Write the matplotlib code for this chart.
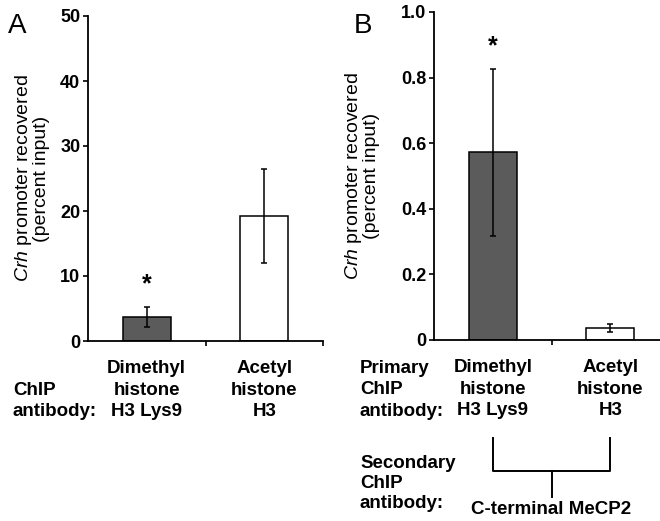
import matplotlib
matplotlib.use("Agg")
import matplotlib.pyplot as plt
import matplotlib.transforms as mtransforms

plt.rcParams['font.family'] = ['Liberation Sans', 'DejaVu Sans']
plt.rcParams['mathtext.fontset'] = 'custom'
plt.rcParams['mathtext.rm'] = 'Liberation Sans'
plt.rcParams['mathtext.it'] = 'Liberation Sans:italic'
plt.rcParams['mathtext.bf'] = 'Liberation Sans:bold'

# ---------------- data ----------------
categories = ["Dimethyl\nhistone\nH3 Lys9", "Acetyl\nhistone\nH3"]
a_values = [3.7, 19.2]
a_errors = [1.6, 7.2]
b_values = [0.572, 0.036]
b_errors = [0.255, 0.012]
a_yticks = [0, 10, 20, 30, 40, 50]
a_yticklabels = ["0", "10", "20", "30", "40", "50"]
b_yticks = [0, 0.2, 0.4, 0.6, 0.8, 1.0]
b_yticklabels = ["0", "0.2", "0.4", "0.6", "0.8", "1.0"]
a_significant = [True, False]
b_significant = [True, False]
bar_colors = ["#5b5b5b", "white"]
ylabel = "$\\it{Crh}$ promoter recovered\n(percent input)"

fig = plt.figure(figsize=(6.6, 5.21), dpi=100)
W, H = 660.0, 521.0

def fx(px):
    return px / W

def fy(py):
    return 1 - py / H

axA = fig.add_axes([fx(88), fy(341), fx(323) - fx(88), fy(16) - fy(341)])
axB = fig.add_axes([fx(434), fy(340), 1.0 - fx(434), fy(12) - fy(340)])

x = [0, 1]
bw = 0.41
LS = 1.33

def style(ax, yticks, yticklabels, ylim, xlim, majors):
    ax.set_ylim(*ylim)
    ax.set_xlim(*xlim)
    for s in ['top', 'right']:
        ax.spines[s].set_visible(False)
    for s in ['left', 'bottom']:
        ax.spines[s].set_linewidth(1.3)
    ax.set_yticks(yticks)
    ax.set_yticklabels(yticklabels, fontsize=13, fontweight='bold')
    ax.tick_params(axis='y', direction='out', length=3.5, width=1.2, pad=2)
    ax.set_xticks(majors)
    ax.set_xticklabels([""] * len(majors))
    ax.tick_params(axis='x', which='major', direction='out', length=3.5, width=1.2)
    ax.set_xticks(x, minor=True)
    ax.set_xticklabels(categories, minor=True, fontsize=13.5, fontweight='bold',
                       linespacing=LS)
    ax.tick_params(axis='x', which='minor', length=0, pad=14)
    ax.set_ylabel(ylabel, fontsize=14, linespacing=0.95)

def draw_bars(ax, values, errors, stars):
    ax.bar(x, values, width=bw, color=bar_colors, edgecolor='black',
           linewidth=1.1, zorder=2)
    ax.errorbar(x, values, yerr=errors, fmt='none', ecolor='black',
                elinewidth=1.1, capsize=2.5, capthick=1.1, zorder=3)
    for xi, v, e, s in zip(x, values, errors, stars):
        if s:
            ax.annotate("*", xy=(xi, v + e), xytext=(0, 16),
                        textcoords='offset points', ha='center', va='center',
                        fontsize=18, fontweight='bold')

draw_bars(axA, a_values, a_errors, a_significant)
style(axA, a_yticks, a_yticklabels, (0, 50), (-0.5, 1.5), [0.5, 1.5])
axA.yaxis.set_label_coords(-0.162, 0.5)

draw_bars(axB, b_values, b_errors, b_significant)
style(axB, b_yticks, b_yticklabels, (0, 1.0), (-0.5, 1.423), [0.5])
axB.yaxis.set_label_coords(-0.239, 0.5)

# panel letters
fig.text(fx(8), fy(33), "A", fontsize=20, ha='left', va='baseline')
fig.text(fx(354), fy(33), "B", fontsize=20, ha='left', va='baseline')

# row labels
fig.text(fx(13), fy(382), "ChIP\nantibody:", fontsize=13.5, fontweight='bold',
         ha='left', va='top', linespacing=LS)
fig.text(fx(360), fy(360), "Primary\nChIP\nantibody:", fontsize=13.5,
         fontweight='bold', ha='left', va='top', linespacing=LS)
fig.text(fx(360), fy(455), "Secondary\nChIP\nantibody:", fontsize=13.5,
         fontweight='bold', ha='left', va='top', linespacing=1.22)

# bracket linking both primary antibodies to secondary antibody
tr = mtransforms.blended_transform_factory(axB.transData, fig.transFigure)
y_top, y_mid, y_bot = fy(438), fy(471), fy(497)
kw = dict(color='black', linewidth=1.4, transform=tr, clip_on=False)
axB.plot([x[0], x[0], x[1], x[1]], [y_top, y_mid, y_mid, y_top], **kw)
axB.plot([0.5, 0.5], [y_mid, y_bot], **kw)
axB.text(0.5, fy(501), "C-terminal MeCP2", transform=tr, ha='center', va='top',
         fontsize=13.5, fontweight='bold')

fig.savefig("out.png", dpi=100)
